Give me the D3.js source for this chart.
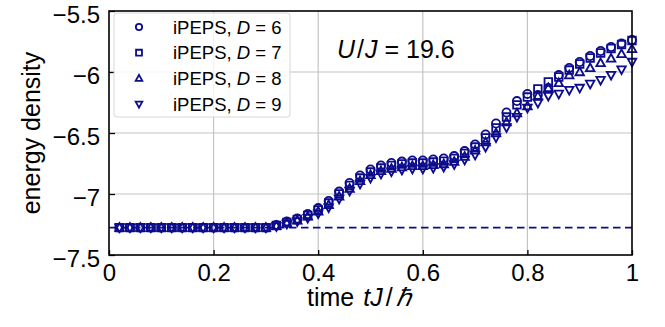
<!DOCTYPE html>
<html>
<head>
<meta charset="utf-8">
<script src="https://cdn.jsdelivr.net/npm/d3@7"></script>
<style>
  html, body { margin: 0; padding: 0; background: #fff; }
  svg { display: block; font-family: "Liberation Sans", Arial, sans-serif; }
</style>
</head>
<body>
<svg id="chart" width="665" height="327"></svg>
<script>
// time grid tJ/ħ = 0.02 ... 1.00
const times = d3.range(1, 51).map(k => +(k * 0.02).toFixed(2));

// energy density per bond dimension
const energyD6 = [
  -7.276, -7.276, -7.276, -7.276, -7.276, -7.276, -7.276, -7.276, -7.276, -7.276,
  -7.276, -7.276, -7.276, -7.276, -7.276, -7.254, -7.225, -7.201, -7.164, -7.115,
  -7.057, -6.980, -6.910, -6.848, -6.799, -6.766, -6.746, -6.734, -6.725, -6.725,
  -6.717, -6.709, -6.689, -6.648, -6.594, -6.512, -6.422, -6.332, -6.238, -6.180,
  -6.189, -6.131, -6.025, -5.967, -5.918, -5.869, -5.828, -5.795, -5.766, -5.738
];
const energyD7 = [
  -7.276, -7.276, -7.276, -7.276, -7.276, -7.276, -7.276, -7.276, -7.276, -7.276,
  -7.276, -7.276, -7.276, -7.276, -7.276, -7.258, -7.234, -7.209, -7.176, -7.131,
  -7.074, -7.000, -6.930, -6.869, -6.820, -6.787, -6.766, -6.754, -6.746, -6.746,
  -6.738, -6.730, -6.709, -6.668, -6.615, -6.541, -6.459, -6.369, -6.270, -6.205,
  -6.139, -6.082, -6.041, -5.984, -5.934, -5.885, -5.844, -5.807, -5.775, -5.742
];
const energyD8 = [
  -7.276, -7.276, -7.276, -7.276, -7.276, -7.276, -7.276, -7.276, -7.276, -7.276,
  -7.276, -7.276, -7.276, -7.276, -7.276, -7.262, -7.238, -7.217, -7.184, -7.143,
  -7.090, -7.020, -6.955, -6.893, -6.844, -6.811, -6.791, -6.779, -6.770, -6.770,
  -6.762, -6.754, -6.734, -6.693, -6.643, -6.574, -6.500, -6.410, -6.336, -6.279,
  -6.197, -6.131, -6.090, -6.025, -6.000, -5.967, -5.926, -5.889, -5.852, -5.811
];
const energyD9 = [
  -7.276, -7.276, -7.276, -7.276, -7.276, -7.276, -7.276, -7.276, -7.276, -7.276,
  -7.276, -7.276, -7.276, -7.276, -7.276, -7.266, -7.246, -7.225, -7.197, -7.160,
  -7.111, -7.041, -6.975, -6.918, -6.869, -6.836, -6.816, -6.803, -6.795, -6.795,
  -6.787, -6.779, -6.758, -6.721, -6.680, -6.615, -6.537, -6.455, -6.369, -6.295,
  -6.254, -6.197, -6.180, -6.148, -6.131, -6.098, -6.066, -6.025, -5.980, -5.918
];

// ground-state energy (dashed reference)
const groundEnergy = -7.276;

const seriesNames = ["6", "7", "8", "9"];
const seriesShapes = ["circle", "square", "triangle", "triangleDown"];
const seriesValues = [energyD6, energyD7, energyD8, energyD9];

const xTicks = [0, 0.2, 0.4, 0.6, 0.8, 1];
const xTickLabels = ["0", "0.2", "0.4", "0.6", "0.8", "1"];
const yTicks = [-7.5, -7, -6.5, -6, -5.5];
const yTickLabels = ["\u22127.5", "\u22127", "\u22126.5", "\u22126", "\u22125.5"];

const color = "#0c0c8c";
const margin = { left: 109, right: 33, top: 11, bottom: 72 };
const W = 665, H = 327;

const svg = d3.select("#chart");
const x = d3.scaleLinear().domain([0, 1]).range([margin.left, W - margin.right]);
const y = d3.scaleLinear().domain([-7.5, -5.5]).range([H - margin.bottom, margin.top]);

// grid
const grid = svg.append("g");
grid.selectAll("line.gx").data(xTicks.slice(1, -1)).join("line")
  .attr("x1", d => x(d)).attr("x2", d => x(d))
  .attr("y1", y.range()[0]).attr("y2", y.range()[1])
  .attr("stroke", "#c4c4c4").attr("stroke-width", 1.2);
grid.selectAll("line.gy").data(yTicks.slice(1, -1)).join("line")
  .attr("y1", d => y(d)).attr("y2", d => y(d))
  .attr("x1", x.range()[0]).attr("x2", x.range()[1])
  .attr("stroke", "#c4c4c4").attr("stroke-width", 1.2);

// axes with inward ticks
const xAxis = d3.axisBottom(x).tickValues(xTicks)
  .tickFormat((d, i) => xTickLabels[i]).tickSizeInner(-5).tickSizeOuter(0).tickPadding(8);
const yAxis = d3.axisLeft(y).tickValues(yTicks)
  .tickFormat((d, i) => yTickLabels[i]).tickSizeInner(-6).tickSizeOuter(0).tickPadding(9);

const gx = svg.append("g").attr("transform", `translate(0,${y.range()[0]})`).call(xAxis);
const gy = svg.append("g").attr("transform", `translate(${x.range()[0]},0)`).call(yAxis);
[gx, gy].forEach(g => {
  g.select(".domain").remove();
  g.selectAll(".tick line").attr("stroke", "#000").attr("stroke-width", 1.3);
  g.selectAll(".tick text").attr("fill", "#000").style("font-size", "24px")
    .style("font-family", "'Liberation Sans', Arial, sans-serif");
});
gx.selectAll(".tick text").attr("dy", "0.74em");
gy.selectAll(".tick text").attr("dy", "0.46em");

// reference line
svg.append("line")
  .attr("x1", x(0)).attr("x2", x(1))
  .attr("y1", y(groundEnergy)).attr("y2", y(groundEnergy))
  .attr("stroke", color).attr("stroke-width", 1.6)
  .attr("stroke-dasharray", "7.5,4.5");

// marker paths
function markerPath(shape, s) {
  switch (shape) {
    case "circle": {
      const r = s * 0.45;
      return `M${r},0A${r},${r} 0 1,1 ${-r},0A${r},${r} 0 1,1 ${r},0Z`;
    }
    case "square": {
      const h = s * 0.42;
      return `M${-h},${-h}H${h}V${h}H${-h}Z`;
    }
    case "triangle": {
      const h = s * 0.5;
      return `M0,${-h}L${h * 0.95},${h * 0.72}L${-h * 0.95},${h * 0.72}Z`;
    }
    case "triangleDown": {
      const h = s * 0.5;
      return `M0,${h}L${h * 0.95},${-h * 0.72}L${-h * 0.95},${-h * 0.72}Z`;
    }
  }
}

const plot = svg.append("g");
seriesValues.forEach((vals, si) => {
  plot.append("g").selectAll("path").data(times.map((t, i) => [t, vals[i]])).join("path")
    .attr("transform", d => `translate(${x(d[0])},${y(d[1])})`)
    .attr("d", markerPath(seriesShapes[si], 9))
    .attr("fill", "none").attr("stroke", color).attr("stroke-width", 1.8);
});

// frame
svg.append("rect")
  .attr("x", x.range()[0]).attr("y", y.range()[1])
  .attr("width", x.range()[1] - x.range()[0]).attr("height", y.range()[0] - y.range()[1])
  .attr("fill", "none").attr("stroke", "#000").attr("stroke-width", 1.6);

// legend
const leg = svg.append("g");
leg.append("rect")
  .attr("x", 114).attr("y", 13).attr("width", 176).attr("height", 104).attr("rx", 3)
  .attr("fill", "#fff").attr("fill-opacity", 0.8)
  .attr("stroke", "#d6d6d6").attr("stroke-width", 1);
seriesNames.forEach((name, i) => {
  const cy = 27 + i * 25.7;
  leg.append("path")
    .attr("transform", `translate(139,${cy})`)
    .attr("d", markerPath(seriesShapes[i], 7))
    .attr("fill", "none").attr("stroke", color).attr("stroke-width", 1.8);
  const t = leg.append("text").attr("x", 173).attr("y", cy + 6.5)
    .style("font-size", "18.5px").attr("fill", "#000");
  t.append("tspan").text("iPEPS, ");
  t.append("tspan").style("font-style", "italic").text("D");
  t.append("tspan").text(" = " + name);
});

// annotation
const ann = svg.append("text").attr("x", 337).attr("y", 58)
  .style("font-size", "25px").attr("fill", "#000");
ann.append("tspan").style("font-style", "italic").text("U");
ann.append("tspan").attr("dx", 2).text("/");
ann.append("tspan").attr("dx", 1).style("font-style", "italic").text("J");
ann.append("tspan").text(" = 19.6");

// axis titles
const xt = svg.append("text").attr("x", 307).attr("y", 306)
  .style("font-size", "25px").attr("fill", "#000");
xt.append("tspan").text("time ");
xt.append("tspan").attr("dx", 2).style("font-style", "italic").text("tJ");
xt.append("tspan").attr("dx", 3).text("/");
xt.append("tspan").attr("dx", 3).style("font-style", "italic").text("\u210F");

svg.append("text")
  .attr("transform", `translate(40,${(y.range()[0] + y.range()[1]) / 2}) rotate(-90)`)
  .attr("text-anchor", "middle")
  .style("font-size", "25px").attr("fill", "#000")
  .text("energy density");
</script>
</body>
</html>
